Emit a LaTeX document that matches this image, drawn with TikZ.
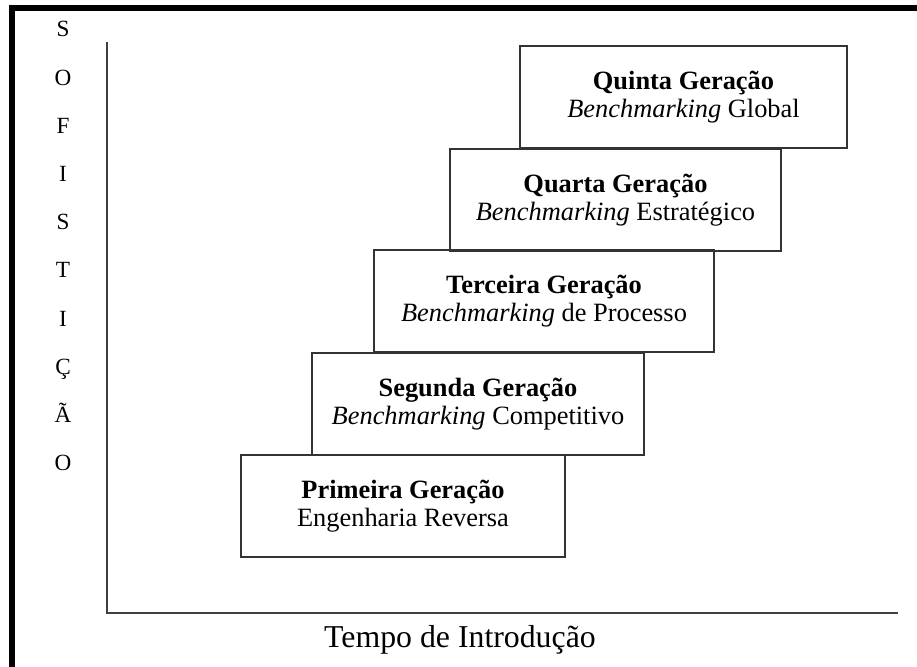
\documentclass[tikz,border=0pt]{standalone}
\usepackage{fontspec}
\setmainfont{Liberation Serif}
\usepackage{tikz}

\tikzset{
  geracao/.style={draw=black!80, line width=1pt, inner sep=0pt,
    minimum height=51pt, align=center, font=\fontsize{13.2}{14}\selectfont},
  eixo/.style={draw=black!75, line width=1pt},
  letra/.style={anchor=base, font=\fontsize{11.6}{14}\selectfont}
}

\begin{document}
\begin{tikzpicture}[x=0.5pt, y=-0.5pt]
  \useasboundingbox (0,0) rectangle (917,667);
  % moldura
  \fill[black] (9,5) rectangle (917,11);
  \fill[black] (9,5) rectangle (15,667);

  % eixos
  \coordinate (o) at (107,613);
  \coordinate (ytop) at (107,42);
  \coordinate (xend) at (898,613);
  \draw[eixo] (ytop) -- (o) -- (xend);
  \node[anchor=base, font=\fontsize{15.9}{18}\selectfont] (tempo) at (460,648) {Tempo de Introdução};
  \foreach \l [count=\i] in {S,O,F,I,S,T,I,Ç,Ã,O}
    \node[letra] (l\i) at (63,{37+48.2*(\i-1)}) {\l};

  % geracoes
  \node[geracao, minimum width=163.5pt] (quinta) at (683.5,97)
    {\textbf{Quinta Geração}\\\textit{Benchmarking} Global};
  \node[geracao, minimum width=165.5pt] (quarta) at (615.5,200)
    {\textbf{Quarta Geração}\\\textit{Benchmarking} Estratégico};
  \node[geracao, minimum width=170pt] (terceira) at (544,301.5)
    {\textbf{Terceira Geração}\\\textit{Benchmarking} de Processo};
  \node[geracao, minimum width=166pt] (segunda) at (478,404)
    {\textbf{Segunda Geração}\\\textit{Benchmarking} Competitivo};
  \node[geracao, minimum width=162pt] (primeira) at (403,506)
    {\textbf{Primeira Geração}\\Engenharia Reversa};
\end{tikzpicture}
\end{document}
